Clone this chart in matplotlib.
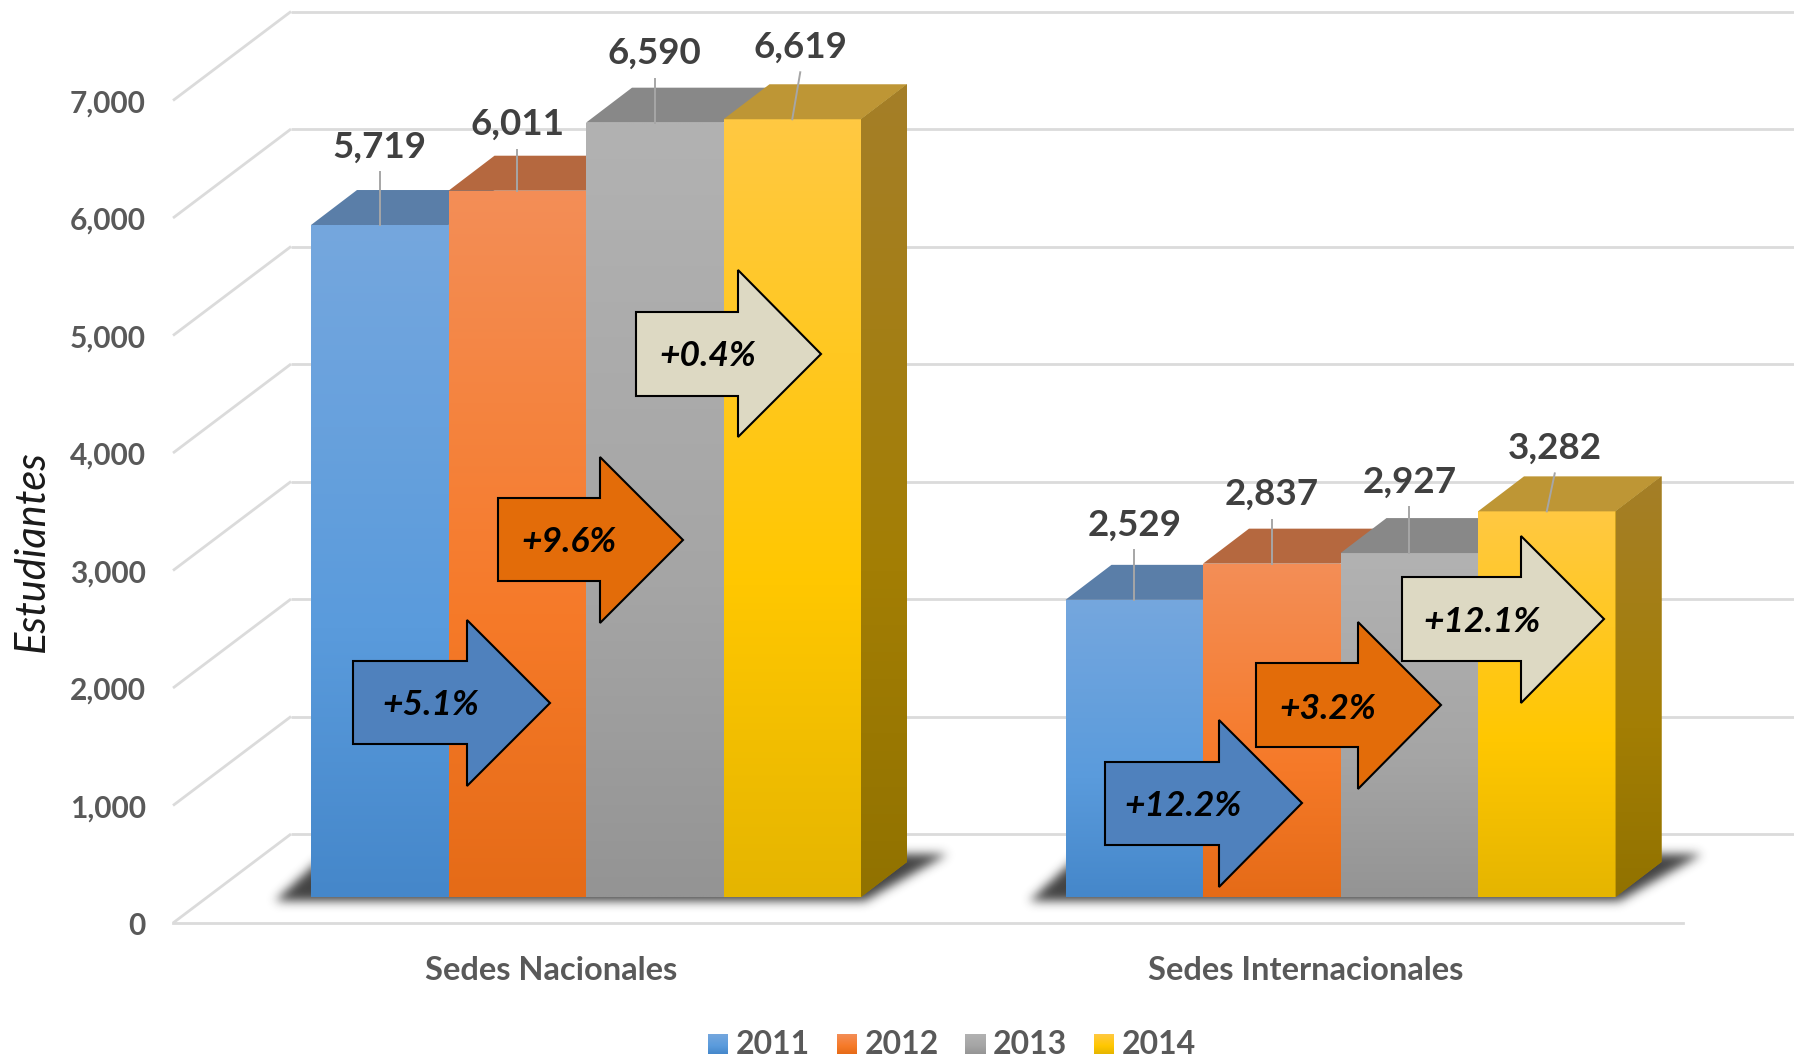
import matplotlib
matplotlib.use("Agg")
import matplotlib.pyplot as plt
import numpy as np
from matplotlib.colors import to_rgb
from matplotlib.patches import Polygon
from matplotlib.path import Path

plt.rcParams['font.family'] = ['Lato', 'DejaVu Sans']

# ---- data
categories = ['Sedes Nacionales', 'Sedes Internacionales']
years = ['2011', '2012', '2013', '2014']
v2011 = [5719, 2529]
v2012 = [6011, 2837]
v2013 = [6590, 2927]
v2014 = [6619, 3282]
series = [v2011, v2012, v2013, v2014]
yticks = [0, 1000, 2000, 3000, 4000, 5000, 6000, 7000]
growth_nac = ['+5.1%', '+9.6%', '+0.4%']
growth_int = ['+12.2%', '+3.2%', '+12.1%']

# ---- layout, everything in pixels of the 1794x1057 picture
W, H = 1794, 1057
BAR_W = 137.5
PX_PER_UNIT = 0.1175
BASE_Y = 897
CENTER0 = 586
GROUP_STEP = 754.5 / BAR_W
DEPTH_X = 46 / BAR_W
DEPTH_Y = 35 / PX_PER_UNIT

grad_stops = [0, 0.6, 1]
front_cols = [['#75A7DE', '#5A9BDC', '#4587CA'],
              ['#F38E57', '#F67A29', '#E56B17'],
              ['#B2B2B2', '#A5A5A5', '#949494'],
              ['#FFC942', '#FFC700', '#E5B500']]
top_cols = ['#5A7EA8', '#B5683F', '#888888', '#BE9635']
side_cols = ['#A57F28', '#A37E04', '#917200']
arrow_cols = ['#4F81BD', '#E36C09', '#DDD9C3']

leader_up = [[53, 41, 44, 47], [50, 44, 46, 38]]
leader_lean = [[0, 0, 0, 8], [0, 0, 0, 8]]

# left, head base, tip, top, body top, middle, body bottom, bottom
arrows_nac = [[353, 467, 550, 620, 661, 703, 744, 786],
              [498, 600, 683, 457, 498, 540, 581, 623],
              [636, 738, 821, 270, 312, 354, 396, 437]]
arrows_int = [[1105, 1219, 1302, 720, 762, 803, 845, 887],
              [1256, 1358, 1441, 622, 663, 705, 747, 789],
              [1402, 1521, 1604, 536, 577, 619, 661, 703]]
text_nac = [(431, 705), (569, 542), (708, 356)]
text_int = [(1183, 806), (1328, 709), (1482, 622)]


def X(px):
    return (px - CENTER0) / BAR_W


def Y(py):
    return (BASE_Y - py) / PX_PER_UNIT


def gradient(cols, n=256):
    rgb = np.array([to_rgb(c) for c in cols])
    t = np.linspace(0, 1, n)
    g = np.stack([np.interp(t, grad_stops, rgb[:, k]) for k in range(3)], axis=1)
    return g[:, None, :]


def shadow(left, right):
    # soft dark shape on the floor, under and to the right of a group
    x0, x1, y0, y1 = int(left) - 80, int(right) + 140, 820, 930
    xx, yy = np.meshgrid(np.arange(x0, x1), np.arange(y0, y1))
    pts = np.column_stack([xx.ravel(), yy.ravel()])
    shape = Path([(left - 36, 900), (left + 15, 853), (right + 86, 853), (right + 3, 900)])
    mask = shape.contains_points(pts).reshape(xx.shape).astype(float)
    k = np.exp(-np.arange(-14, 15) ** 2 / (2 * 5.0 ** 2))
    k = k / k.sum()
    mask = np.apply_along_axis(lambda r: np.convolve(r, k, mode='same'), 0, mask)
    mask = np.apply_along_axis(lambda r: np.convolve(r, k, mode='same'), 1, mask)
    img = np.zeros(mask.shape + (4,))
    img[..., :3] = 0.13
    img[..., 3] = mask * 0.85
    ax.imshow(img, extent=(X(x0), X(x1), Y(y1), Y(y0)), origin='upper', aspect='auto', zorder=2)


fig = plt.figure(figsize=(W / 100, H / 100), dpi=100)
ax = fig.add_axes([0, 0, 1, 1])
ax.axis('off')

# walls and floor
wall_front = X(173)
wall_back = X(291)
drop_front = Y(923)
rise_back = Y(834)
for v in yticks:
    ax.plot([wall_front, wall_back], [v + drop_front, v + rise_back],
            color='#DBDBDB', lw=2, zorder=1, solid_capstyle='butt')
    ax.plot([wall_back, X(W)], [v + rise_back, v + rise_back],
            color='#DBDBDB', lw=2, zorder=1, solid_capstyle='butt')
    ax.text(X(146), v + drop_front - 3 / PX_PER_UNIT, f'{v:,}', ha='right', va='center',
            fontsize=21.5, fontweight='bold', color='#595959')
ax.plot([wall_front, X(1683)], [drop_front, drop_front], color='#DBDBDB', lw=2, zorder=1)

# bars
for g in range(len(categories)):
    center = g * GROUP_STEP
    shadow(CENTER0 + center * BAR_W - 2 * BAR_W, CENTER0 + center * BAR_W + 2 * BAR_W)
    for i in range(len(years)):
        z = 3 + i
        v = series[i][g]
        x = center + i - 1.5
        bar = ax.bar(x, v, width=1, color=front_cols[i][1], zorder=z)[0]
        im = ax.imshow(gradient(front_cols[i]), extent=(x - .5, x + .5, 0, v), origin='upper',
                       aspect='auto', interpolation='bilinear', zorder=z)
        im.set_clip_path(bar)
        ax.add_patch(Polygon([(x - .5, v), (x + .5, v), (x + .5 + DEPTH_X, v + DEPTH_Y),
                              (x - .5 + DEPTH_X, v + DEPTH_Y)], fc=top_cols[i], ec='none', zorder=z))
        if i == len(years) - 1:
            side = Polygon([(x + .5, 0), (x + .5 + DEPTH_X, DEPTH_Y),
                            (x + .5 + DEPTH_X, v + DEPTH_Y), (x + .5, v)], fc=side_cols[1], ec='none', zorder=z)
            ax.add_patch(side)
            im = ax.imshow(gradient(side_cols), extent=(x + .5, x + .5 + DEPTH_X, 0, v + DEPTH_Y),
                           origin='upper', aspect='auto', interpolation='bilinear', zorder=z)
            im.set_clip_path(side)

        # leader line and value
        up = leader_up[g][i] / PX_PER_UNIT
        lean = leader_lean[g][i] / BAR_W
        ax.plot([x, x + lean], [v, v + up], color='#A6A6A6', lw=1.4, zorder=8)
        ax.text(x + lean, v + up + 25 / PX_PER_UNIT, f'{v:,}', ha='center', va='center',
                fontsize=26.5, fontweight='bold', color='#404040', zorder=9)

    ax.text(center - 35 / BAR_W, Y(971), categories[g], ha='center', va='center',
            fontsize=23.5, fontweight='bold', color='#595959')

# growth arrows
for arrs, txts, labels in [(arrows_nac, text_nac, growth_nac), (arrows_int, text_int, growth_int)]:
    for a, t, lab, col in zip(arrs, txts, labels, arrow_cols):
        l, b, tip, top, bt, mid, bb, bot = a
        pts = [(l, bt), (b, bt), (b, top), (tip, mid), (b, bot), (b, bb), (l, bb)]
        ax.add_patch(Polygon([(X(p), Y(q)) for p, q in pts], closed=True, fc=col, ec='black',
                             lw=1.5, joinstyle='miter', zorder=10))
        ax.text(X(t[0]), Y(t[1]), lab, ha='center', va='center', fontsize=25.5,
                fontweight='bold', fontstyle='italic', color='black', zorder=11)

# legend
legend_sq = [708, 837, 965, 1094]
for i, y in enumerate(years):
    ax.imshow(gradient(front_cols[i]), extent=(X(legend_sq[i]), X(legend_sq[i] + 20), Y(1054), Y(1034)),
              origin='upper', aspect='auto', interpolation='bilinear', zorder=3)
    ax.text(X(legend_sq[i] + 28), Y(1044), y, ha='left', va='center', fontsize=23,
            fontweight='bold', color='#595959')

ax.text(X(32), Y(551), 'Estudiantes', rotation=90, ha='center', va='center', fontsize=30,
        fontstyle='italic', color='#1A1A1A')

ax.set_xlim(X(0), X(W))
ax.set_ylim(Y(H), Y(0))

fig.savefig('out.png', dpi=100, facecolor='white')
